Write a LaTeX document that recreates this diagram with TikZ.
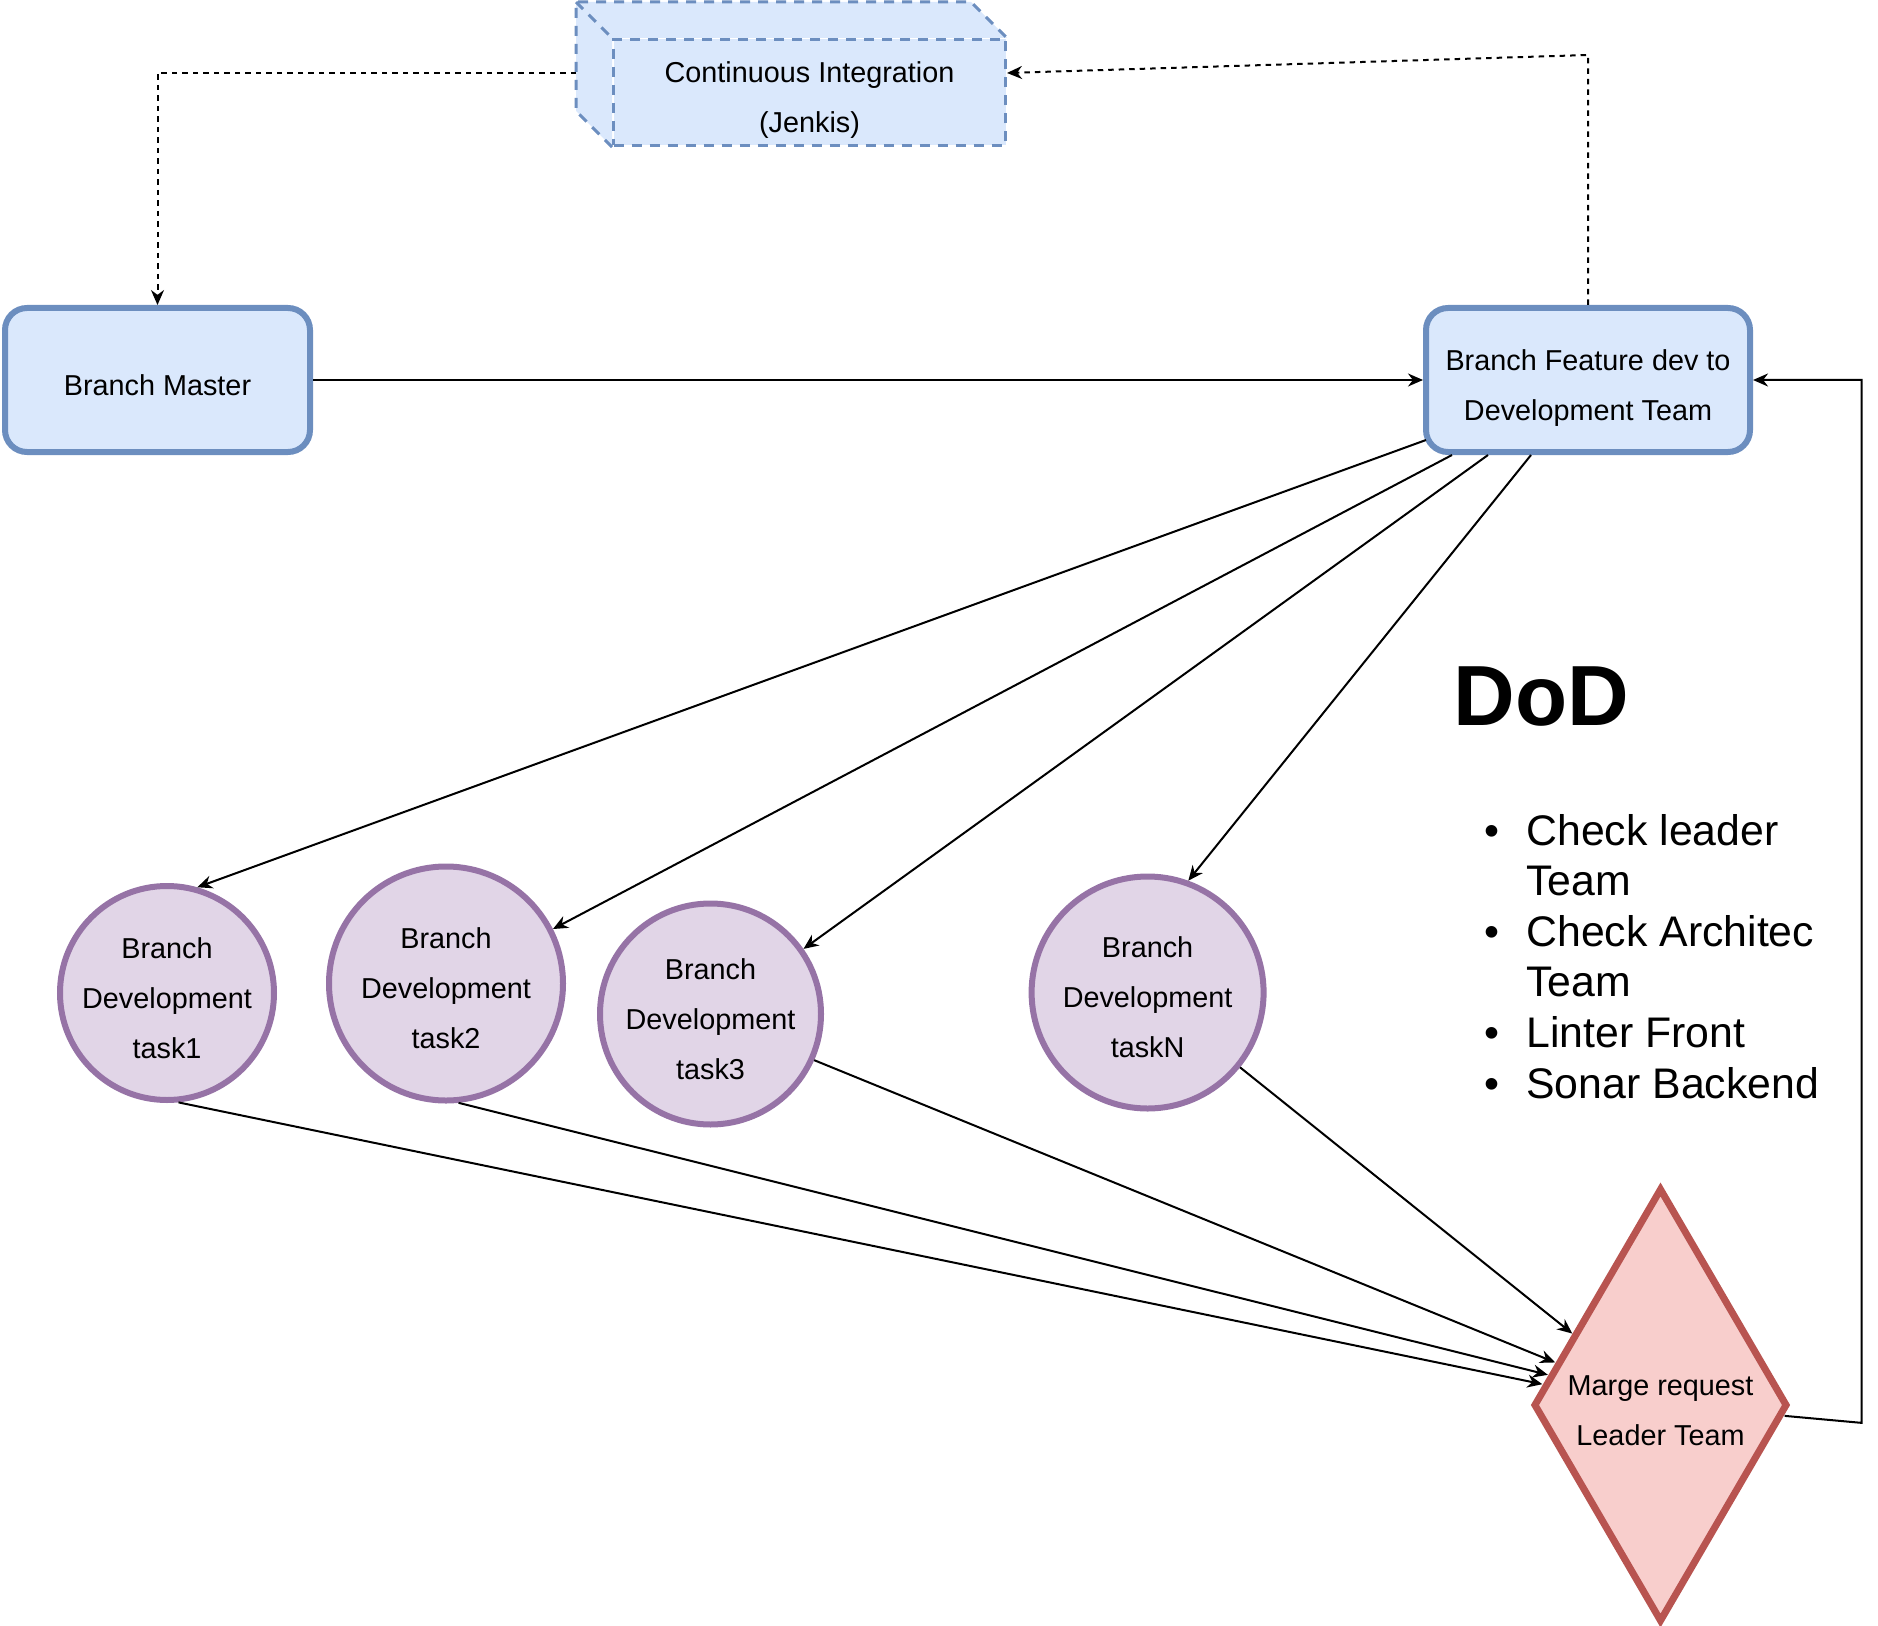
\documentclass[tikz,border=0pt]{standalone}
\usepackage{fontspec}
\setmainfont{Liberation Sans}
\usetikzlibrary{arrows.meta, positioning, shapes.geometric, calc, backgrounds}

\definecolor{boxfill}{HTML}{DAE8FC}
\definecolor{boxedge}{HTML}{6C8EBF}
\definecolor{taskfill}{HTML}{E1D5E7}
\definecolor{taskedge}{HTML}{9673A6}
\definecolor{mrfill}{HTML}{F8CECC}
\definecolor{mredge}{HTML}{B85450}

\newcommand{\nodefont}{\fontsize{14.4}{25}\selectfont}
\newcommand{\listfont}{\fontsize{21.4}{25.3}\selectfont}
\newcommand{\dodbullet}{\makebox[34pt]{\textbullet}}
\newcommand{\tops}{\rule{0pt}{18.5pt}}
\newcommand{\bots}{\rule[-3.2pt]{0pt}{3.2pt}}

\tikzset{
    boxtext/.style={align=center, font=\nodefont, inner sep=0pt},
    branchbox/.style={boxtext, draw=boxedge, fill=boxfill, line width=3pt, rounded corners=11pt,
        minimum height=72pt},
    taskcirc/.style={boxtext, circle, draw=taskedge, fill=taskfill, line width=3pt, inner sep=-2.5pt},
    flow/.style={-{Stealth[length=7.5pt, width=6.5pt]}, line width=1pt},
    ciflow/.style={flow, dash pattern=on 2.75pt off 2.5pt},
    cubeedge/.style={draw=boxedge, line width=1.5pt, dash pattern=on 5pt off 4pt},
}

\begin{document}
\begin{tikzpicture}[x=0.5pt, y=-0.5pt]
    \useasboundingbox (0,0) rectangle (1878,1626);

    % CI cube
    \node[boxtext, cubeedge, fill=boxfill, minimum width=196pt, minimum height=53pt] (ci) at (809.5,92.5)
        {\tops Continuous Integration\\(Jenkis)\bots};
    \coordinate (ci back) at ($(ci.north west)+(-36,-36)$);
    \begin{scope}[on background layer]
        \fill[boxfill] (ci.south west) -- ($(ci.south west)+(-36,-36)$) -- (ci back)
            -- ($(ci.north east)+(-36,-36)$) -- (ci.north east) -- (ci.north west) -- cycle;
    \end{scope}
    \draw[cubeedge] (ci.south west) -- ($(ci.south west)+(-36,-36)$) -- (ci back)
        -- ($(ci.north east)+(-36,-36)$) -- (ci.north east);
    \draw[cubeedge] (ci back) -- (ci.north west);
    \coordinate (ci out) at ($(ci.north west)+(-36,35)$);
    \coordinate (ci in) at ($(ci.north east)+(0,35)$);

    \node[branchbox, minimum width=152.5pt] (master) at (157.5,380) {\tops Branch Master\bots};
    \node[branchbox, minimum width=162pt] (feat) at (1588,380) {\tops Branch Feature dev to\\Development Team\bots};

    \node[taskcirc, minimum size=107pt] (t1) at (167,993) {\tops Branch\\Development\\task1\bots};
    \node[taskcirc, minimum size=117pt] (t2) at (446,983.5) {\tops Branch\\Development\\task2\bots};
    \node[taskcirc, minimum size=110.5pt] (t3) at (710.5,1014) {\tops Branch\\Development\\task3\bots};
    \node[taskcirc, minimum size=116pt] (tN) at (1147.6,992.5) {\tops Branch\\Development\\taskN\bots};

    \node[boxtext, diamond, aspect=0.585, draw=mredge, fill=mrfill, line width=3.5pt, minimum width=127pt,
        minimum height=217pt] (mr) at (1660.5,1405) {\tops Marge request\\Leader Team\bots};

    \node[anchor=base west, inner sep=0pt, font=\fontsize{42.7}{50}\selectfont\bfseries] (dod) at (1453,725) {DoD};
    \node[anchor=base west, inner sep=0pt, align=left, font=\listfont] (checks) at (1458,1098)
        {\dodbullet Check leader\\\hspace*{34pt}Team\\\dodbullet Check Architec\\\hspace*{34pt}Team\\\dodbullet Linter Front\\\dodbullet Sonar Backend};

    \draw[ciflow] (ci out) -| (master);
    \draw[ciflow] (feat.north) -- ++(0,-250) -- (ci in);
    \draw[flow] (master) -- (feat);

    \draw[flow] ($(feat.south west)+(3,-15)$) -- (t1.74.6);
    \draw[flow] ($(feat.south west)+(29,0)$) -- (t2.27.6);
    \draw[flow] ($(feat.south west)+(65,0)$) -- (t3.35.9);
    \draw[flow] ($(feat.south west)+(108,0)$) -- (tN.70.3);

    \draw[flow] (t1.-84.5) -- (mr.170);
    \draw[flow] (t2.-84.9) -- (mr.165.8);
    \draw[flow] (t3.-24.5) -- (mr.158);
    \draw[flow] (tN.-39.3) -- (mr.141.4);

    \draw[flow] (mr.-5.7) -- ++(77,7) |- (feat.east);
\end{tikzpicture}
\end{document}
